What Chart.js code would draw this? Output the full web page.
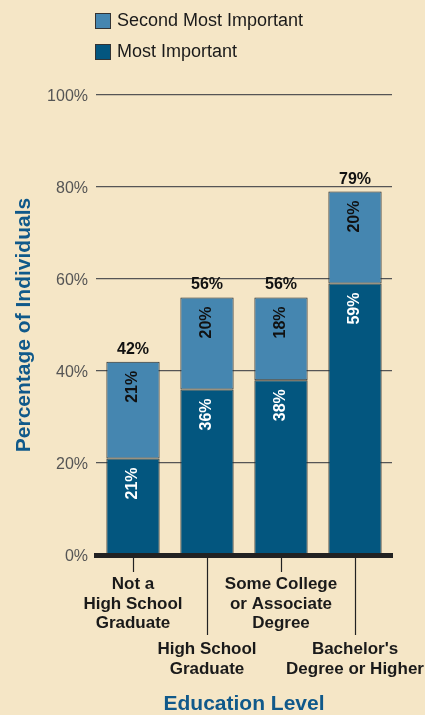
<!DOCTYPE html>
<html>
<head>
<meta charset="utf-8">
<script src="https://cdn.jsdelivr.net/npm/chart.js@4"></script>
<style>
  html, body { margin: 0; padding: 0; background: #f5e6c6; }
  #wrap { position: relative; width: 425px; height: 715px; }
  #legend { position: absolute; left: 95px; top: 5px; font: 18px "Liberation Sans", Arial, sans-serif; color: #1a1a1a; }
  .item { display: flex; align-items: center; height: 31px; }
  .box { width: 14px; height: 14px; border: 1px solid #333; margin-right: 6px; }
</style>
</head>
<body>
<div id="wrap">
  <canvas id="chart" width="425" height="715"></canvas>
  <div id="legend"></div>
</div>
<script>
const categories = [
  ["Not a", "High School", "Graduate"],
  ["High School", "Graduate"],
  ["Some College", "or Associate", "Degree"],
  ["Bachelor's", "Degree or Higher"]
];
const mostImportant = [21, 36, 38, 59];
const secondMostImportant = [21, 20, 18, 20];
const yTicks = [0, 20, 40, 60, 80, 100];

const FONT = '"Liberation Sans", Arial, sans-serif';
const TITLE_BLUE = "#10598a";

// rotated values inside the bars + totals on top
const barLabels = {
  id: "barLabels",
  afterDatasetsDraw(chart) {
    const ctx = chart.ctx;
    ctx.save();
    ctx.font = "bold 16px " + FONT;
    chart.data.datasets.forEach((ds, di) => {
      chart.getDatasetMeta(di).data.forEach((bar, i) => {
        ctx.save();
        ctx.translate(bar.x, bar.y + 9);
        ctx.rotate(-Math.PI / 2);
        ctx.textAlign = "right";
        ctx.textBaseline = "middle";
        ctx.fillStyle = di === 0 ? "#ffffff" : "#111111";
        ctx.fillText(ds.data[i] + "%", 0, 0);
        ctx.restore();
      });
    });
    const last = chart.data.datasets.length - 1;
    chart.getDatasetMeta(last).data.forEach((bar, i) => {
      const total = chart.data.datasets.reduce((s, ds) => s + ds.data[i], 0);
      ctx.textAlign = "center";
      ctx.textBaseline = "alphabetic";
      ctx.fillStyle = "#111111";
      ctx.fillText(total + "%", bar.x, bar.y - 8);
    });
    ctx.restore();
  }
};

// staggered tick marks under the baseline
const tickLines = {
  id: "tickLines",
  afterDraw(chart) {
    const ctx = chart.ctx;
    const xs = chart.scales.x;
    const bottom = chart.chartArea.bottom;
    ctx.save();
    ctx.strokeStyle = "#222";
    ctx.lineWidth = 1.2;
    xs.ticks.forEach((t, i) => {
      const px = Math.round(xs.getPixelForTick(i)) + 0.5;
      ctx.beginPath();
      ctx.moveTo(px, bottom + 2);
      ctx.lineTo(px, bottom + (i % 2 === 0 ? 17 : 80));
      ctx.stroke();
    });
    ctx.restore();
  }
};

const chart = new Chart(document.getElementById("chart"), {
  type: "bar",
  data: {
    labels: categories,
    datasets: [
      {
        label: "Most Important",
        data: mostImportant,
        backgroundColor: "#03567f",
        borderColor: "#2b2b2b",
        borderWidth: 1,
        borderSkipped: false,
        barPercentage: 0.72,
        categoryPercentage: 1
      },
      {
        label: "Second Most Important",
        data: secondMostImportant,
        backgroundColor: "#4586b0",
        borderColor: "#2b2b2b",
        borderWidth: 1,
        borderSkipped: false,
        barPercentage: 0.72,
        categoryPercentage: 1
      }
    ]
  },
  options: {
    responsive: false,
    animation: false,
    layout: { padding: { top: 95, right: 33, bottom: 0, left: 0 } },
    plugins: {
      legend: { display: false },
      tooltip: { enabled: false }
    },
    scales: {
      x: {
        stacked: true,
        offset: true,
        grid: { display: false, drawTicks: false },
        border: { display: true, width: 5, color: "#222", z: 1 },
        ticks: {
          padding: 20,
          maxRotation: 0,
          minRotation: 0,
          autoSkip: false,
          color: "#1a1a1a",
          font: { family: FONT, size: 17, weight: "bold", lineHeight: 1.13 },
          callback: (v, i) => (i % 2 === 0 ? categories[i] : "")
        },
        afterFit: (s) => { s.height = 78; s.paddingLeft = 0; s.paddingRight = 0; }
      },
      x2: {
        type: "category",
        position: "bottom",
        offset: true,
        grid: { display: false, drawTicks: false },
        border: { display: false },
        ticks: {
          padding: 7,
          maxRotation: 0,
          minRotation: 0,
          autoSkip: false,
          color: "#1a1a1a",
          font: { family: FONT, size: 17, weight: "bold", lineHeight: 1.13 },
          callback: (v, i) => (i % 2 === 1 ? categories[i] : "")
        },
        title: {
          display: true,
          text: "Education Level",
          color: TITLE_BLUE,
          padding: 0,
          font: { family: FONT, size: 21, weight: "bold", lineHeight: 1 }
        },
        afterFit: (s) => { s.height = 82; s.paddingLeft = 0; s.paddingRight = 0; }
      },
      y: {
        stacked: true,
        min: 0,
        max: 100,
        afterBuildTicks: (s) => { s.ticks = yTicks.map((v) => ({ value: v })); },
        grid: {
          drawTicks: false,
          lineWidth: 1.3,
          color: (c) => (c.tick && c.tick.value === 0 ? "transparent" : "#555")
        },
        border: { display: false },
        ticks: {
          padding: 8,
          labelOffset: 2,
          color: "#555",
          font: { family: FONT, size: 16 },
          callback: (v) => v + "%"
        },
        title: {
          display: true,
          text: "Percentage of Individuals",
          color: TITLE_BLUE,
          padding: { top: 12, bottom: 0 },
          font: { family: FONT, size: 21, weight: "bold" }
        },
        afterFit: (s) => { s.width = 96; }
      }
    }
  },
  plugins: [barLabels, tickLines]
});

// legend: second series listed first
const legend = document.getElementById("legend");
chart.data.datasets.slice().reverse().forEach((ds) => {
  const row = document.createElement("div");
  row.className = "item";
  const box = document.createElement("span");
  box.className = "box";
  box.style.background = ds.backgroundColor;
  row.appendChild(box);
  row.appendChild(document.createTextNode(ds.label));
  legend.appendChild(row);
});
</script>
</body>
</html>
